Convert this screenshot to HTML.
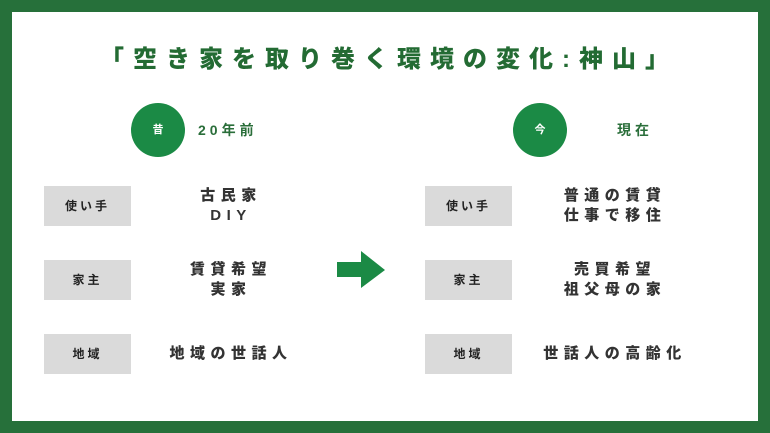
<!DOCTYPE html>
<html><head><meta charset="utf-8"><style>
body{margin:0;width:770px;height:433px;background:#26703a;position:relative;overflow:hidden;font-family:"Liberation Sans","Noto Sans CJK JP",sans-serif;font-weight:bold}
.in{position:absolute;left:12px;top:12px;width:746px;height:409px;background:#fff}
.a{position:absolute;white-space:nowrap}
.t{left:4px;width:770px;text-align:center;top:44px;font-size:24px;letter-spacing:9px;color:#236b33;line-height:32px;font-weight:900}
.c{width:54px;height:54px;border-radius:50%;background:#1b8a45;color:#fff;font-size:11px;text-align:center;line-height:54px}
.s{font-size:14px;letter-spacing:4px;color:#2a6e3a;line-height:20px}
.b{width:87px;height:40px;background:#dadada;color:#222;font-size:12px;letter-spacing:3px;text-align:center;line-height:40px}
.v{font-size:15px;letter-spacing:5.5px;color:#333;text-align:center;line-height:20px;width:200px;font-weight:900}
</style></head><body>
<div class="in"></div>
<div class="a t">「空き家を取り巻く環境の変化:神山」</div>
<div class="a c" style="left:131px;top:103px">昔</div>
<div class="a s" style="left:198px;top:120px">20年前</div>
<div class="a c" style="left:513px;top:103px">今</div>
<div class="a s" style="left:617px;top:120px">現在</div>

<div class="a b" style="left:44px;top:186px">使い手</div>
<div class="a b" style="left:44px;top:260px">家主</div>
<div class="a b" style="left:44px;top:334px">地域</div>
<div class="a b" style="left:425px;top:186px">使い手</div>
<div class="a b" style="left:425px;top:260px">家主</div>
<div class="a b" style="left:425px;top:334px">地域</div>

<div class="a v" style="left:131px;top:186px">古民家<br>DIY</div>
<div class="a v" style="left:131px;top:260px">賃貸希望<br>実家</div>
<div class="a v" style="left:131px;top:344px">地域の世話人</div>
<div class="a v" style="left:515px;top:186px">普通の賃貸<br>仕事で移住</div>
<div class="a v" style="left:515px;top:260px">売買希望<br>祖父母の家</div>
<div class="a v" style="left:515px;top:344px">世話人の高齢化</div>

<svg class="a" style="left:0;top:0" width="770" height="433"><polygon points="337,262 361,262 361,251 385,270 361,288 361,277 337,277" fill="#1b8a45"/></svg>
</body></html>
